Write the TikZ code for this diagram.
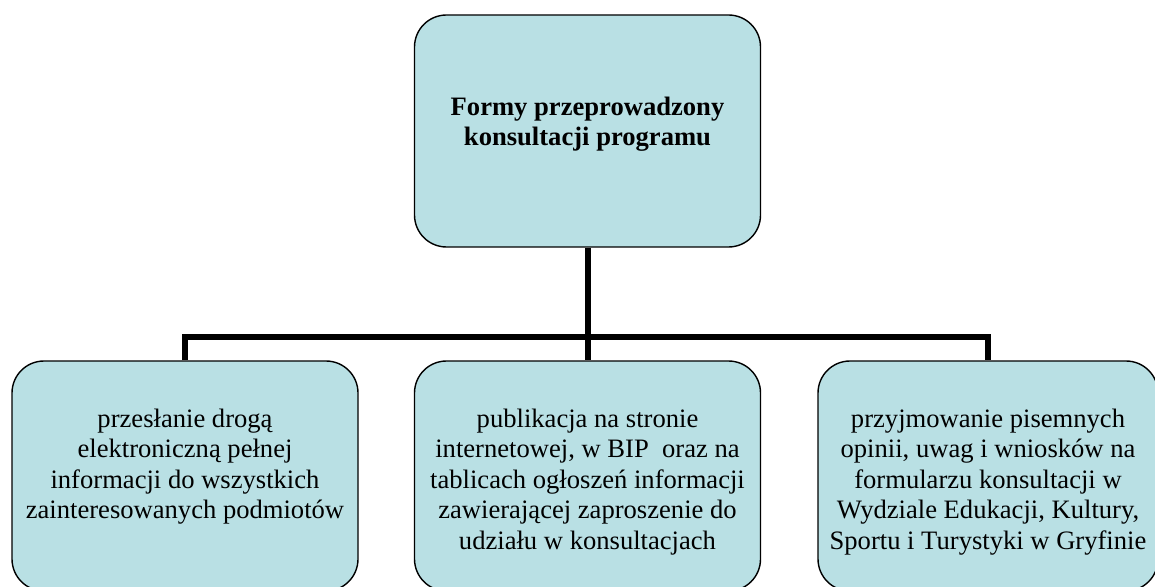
\documentclass[tikz,border=0pt]{standalone}
\usepackage{fontspec}
\setmainfont{Liberation Serif}
\usepackage{tikz}

\definecolor{boxfill}{RGB}{185,224,228}

% text block, top aligned inside a box
\newcommand{\formtext}[2]{\parbox[c][100pt][t]{170pt}{\centering\vspace*{#1}#2}}

\tikzset{
  formbox/.style={draw=black, line width=0.7pt, fill=boxfill, rounded corners=16pt,
    minimum width=173pt, minimum height=115pt, inner sep=0pt,
    font=\fontsize{13.3}{15.2}\selectfont},
  conn/.style={line width=3pt}
}

\begin{document}
\begin{tikzpicture}[x=0.5pt,y=-0.5pt]

 \useasboundingbox (0,0) rectangle (1155,587);
 \clip (0,0) rectangle (1155,587);

 % top box
 \node[formbox, minimum height=116pt] (forms) at (587.5,131)
   {\formtext{33pt}{\bfseries Formy przeprowadzony\\ konsultacji programu}};

 % three boxes below
 \node[formbox] (email) at (185,476)
   {\formtext{16.5pt}{przesłanie drogą\\ elektroniczną pełnej\\ informacji do wszystkich\\ zainteresowanych podmiotów}};
 \node[formbox] (bip) at (587.5,476)
   {\formtext{16.5pt}{publikacja na stronie\\ internetowej, w BIP\ \ oraz na\\ tablicach ogłoszeń informacji\\ zawierającej zaproszenie do\\ udziału w konsultacjach}};
 \node[formbox, minimum width=170pt] (written) at (988,476)
   {\formtext{16.5pt}{przyjmowanie pisemnych\\ opinii, uwag i wniosków na\\ formularzu konsultacji w\\ Wydziale Edukacji, Kultury,\\ Sportu i Turystyki w Gryfinie}};

 \coordinate (bus) at (587.5,337); % horizontal bar

 \draw[conn] (forms.south) -- (bip.north);
 \draw[conn] (email.north) -- (email.north |- bus) -- (written.north |- bus) -- (written.north);

\end{tikzpicture}
\end{document}
